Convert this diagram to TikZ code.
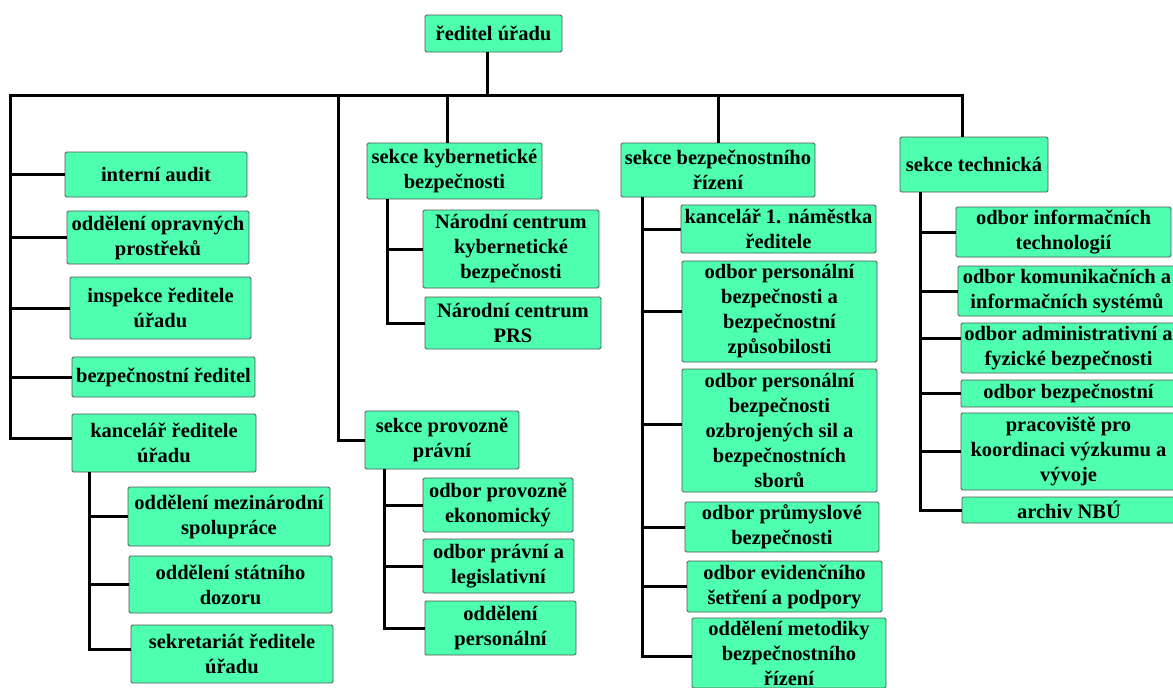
\documentclass[tikz,border=0pt]{standalone}
\usepackage{fontspec}
\setmainfont{Liberation Serif}
\usetikzlibrary{positioning, calc}
\definecolor{boxgreen}{RGB}{77,255,174}
\definecolor{boxedge}{RGB}{85,85,85}

\begin{document}
\begin{tikzpicture}[
        x=1pt, y=-1pt,
        every node/.style={font=\bfseries\fontsize{20.5}{25}\selectfont},
        box/.style={rectangle, draw=boxedge, line width=0.9pt, fill=boxgreen, rounded corners=1.5pt, inner sep=0pt, align=center},
        link/.style={draw=black, line width=3pt}
    ]
        \useasboundingbox (0,0) rectangle (1173,688);

        % vedeni
        \node[box, minimum width=137, minimum height=37] (reditel) at (493.5,33.5) {ředitel úřadu};
        \coordinate (busL) at (10,95);
        \coordinate (busR) at (962,95);
        \coordinate (bus2) at (338,95);

        % levy sloupec
        \node[box, minimum width=182, minimum height=45] (audit) at (156,174.5) {interní audit};
        \node[box, minimum width=182, minimum height=53] (opravne) at (158,237.5) {oddělení opravných\\prostřeků};
        \node[box, minimum width=181, minimum height=62] (inspekce) at (160.5,308) {inspekce ředitele\\úřadu};
        \node[box, minimum width=183, minimum height=40] (bezpred) at (163.5,377) {bezpečnostní ředitel};
        \node[box, minimum width=184, minimum height=58] (kancelar) at (164,443) {kancelář ředitele\\úřadu};
        \node[box, minimum width=202, minimum height=59] (mezinar) at (229,516.5) {oddělení mezinárodní\\spolupráce};
        \node[box, minimum width=203, minimum height=57] (dozor) at (230.5,584.5) {oddělení státního\\dozoru};
        \node[box, minimum width=202, minimum height=58] (sekret) at (232,654) {sekretariát ředitele\\úřadu};

        % sekce kyberneticke bezpecnosti, sekce provozne pravni
        \node[box, minimum width=175, minimum height=56] (kyber) at (454.5,171) {sekce kybernetické\\bezpečnosti};
        \node[box, minimum width=176, minimum height=78] (nckb) at (511,249) {Národní centrum\\kybernetické\\bezpečnosti};
        \node[box, minimum width=176, minimum height=52] (prs) at (513,323) {Národní centrum\\PRS};
        \node[box, minimum width=154, minimum height=58] (provoz) at (442,440) {sekce provozně\\právní};
        \node[box, minimum width=150, minimum height=54] (ekonom) at (498,505) {odbor provozně\\ekonomický};
        \node[box, minimum width=151, minimum height=54] (legis) at (498.5,566) {odbor právní a\\legislativní};
        \node[box, minimum width=151, minimum height=54] (person) at (500.5,628) {oddělení\\personální};

        % sekce bezpecnostniho rizeni
        \node[box, minimum width=194, minimum height=54] (rizeni) at (718,170) {sekce bezpečnostního\\řízení};
        \node[box, minimum width=195, minimum height=48] (namest) at (778.5,229) {kancelář 1. náměstka\\ředitele};
        \node[box, minimum width=195, minimum height=101] (persbez) at (779.5,311.5) {odbor personální\\bezpečnosti a\\bezpečnostní\\způsobilosti};
        \node[box, minimum width=195, minimum height=123] (ozbroj) at (779.5,430.5) {odbor personální\\bezpečnosti\\ozbrojených sil a\\bezpečnostních\\sborů};
        \node[box, minimum width=194, minimum height=50] (prumysl) at (782,527) {odbor průmyslové\\bezpečnosti};
        \node[box, minimum width=195, minimum height=51] (evid) at (784.5,586.5) {odbor evidenčního\\šetření a podpory};
        \node[box, minimum width=194, minimum height=70] (metod) at (789,653) {oddělení metodiky\\bezpečnostního\\řízení};

        % sekce technicka
        \node[box, minimum width=148, minimum height=55] (tech) at (974,164.5) {sekce technická};
        \node[box, minimum width=215, minimum height=50] (infotech) at (1063.5,232) {odbor informačních\\technologií};
        \node[box, minimum width=218, minimum height=50] (komun) at (1067,291) {odbor komunikačních a\\informačních systémů};
        \node[box, minimum width=215, minimum height=50] (admin) at (1068.5,348) {odbor administrativní a\\fyzické bezpečnosti};
        \node[box, minimum width=215, minimum height=27] (bezpodb) at (1068.5,393.5) {odbor bezpečnostní};
        \node[box, minimum width=215, minimum height=77] (vyzkum) at (1068.5,451.5) {pracoviště pro\\koordinaci výzkumu a\\vývoje};
        \node[box, minimum width=214, minimum height=26] (archiv) at (1069,510) {archiv NBÚ};

        % spojnice
        \draw[link] ([xshift=-6pt]reditel.south) -- ([xshift=-6pt]reditel.south |- busL);
        \draw[link, line cap=rect] (busL) -- (busR);
        \draw[link] (busR) -- ([xshift=-12pt]tech.north);
        \draw[link] ([xshift=-7.5pt]kyber.north |- busL) -- ([xshift=-7.5pt]kyber.north);
        \draw[link] (rizeni.north |- busL) -- (rizeni.north);
        \draw[link] (busL) |- ([yshift=5pt]kancelar.west);
        \draw[link] (bus2) |- (provoz.west);
        \foreach \n in {audit, opravne, inspekce, bezpred}
            \draw[link] (\n.west) -- (\n.west -| busL);
        \foreach \n in {mezinar, dozor}
            \draw[link] ([xshift=18pt]kancelar.south west) |- (\n.west);
        \draw[link] ([xshift=18pt]kancelar.south west) |- ([yshift=5pt]sekret.west);
        \foreach \n in {nckb, prs}
            \draw[link] ([xshift=21pt]kyber.south west) |- (\n.west);
        \foreach \n in {ekonom, legis, person}
            \draw[link] ([xshift=20pt]provoz.south west) |- (\n.west);
        \foreach \n in {namest, persbez, prumysl, evid}
            \draw[link] ([xshift=22pt]rizeni.south west) |- (\n.west);
        \draw[link] ([xshift=22pt]rizeni.south west) |- ([yshift=6pt]ozbroj.west);
        \draw[link] ([xshift=22pt]rizeni.south west) |- ([yshift=-3pt]metod.west);
        \foreach \n in {infotech, komun, bezpodb, vyzkum, archiv}
            \draw[link] ([xshift=21pt]tech.south west) |- (\n.west);
        \draw[link] ([xshift=21pt]tech.south west) |- ([yshift=10pt]admin.west);
    \end{tikzpicture}
\end{document}
